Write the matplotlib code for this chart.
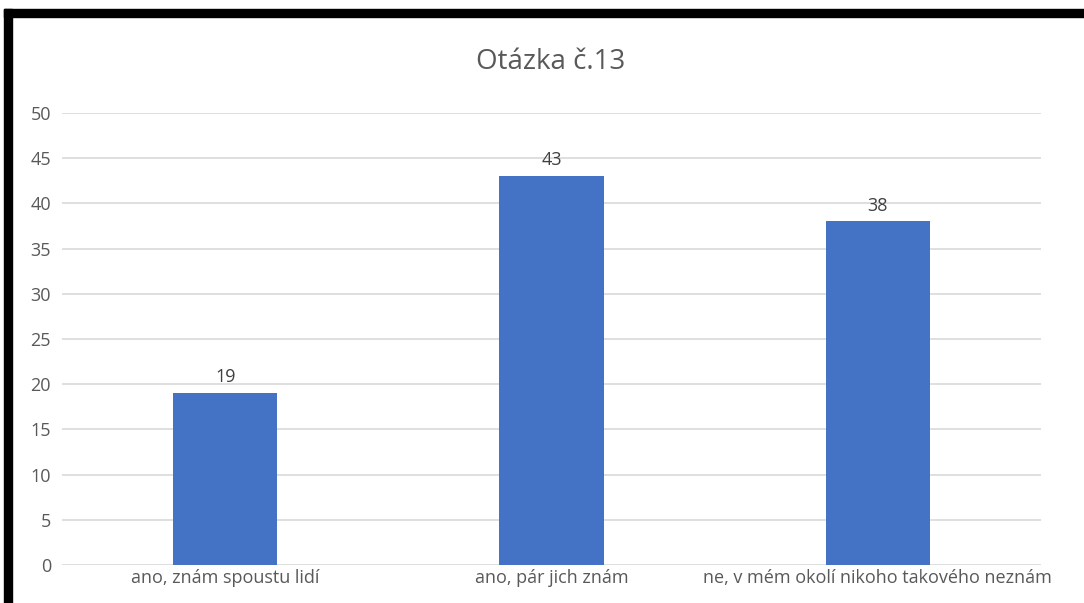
import matplotlib.pyplot as plt
from matplotlib.patches import Rectangle

categories = ["ano, znám spoustu lidí", "ano, pár jich znám", "ne, v mém okolí nikoho takového neznám"]
values = [19, 43, 38]
yticks = [0, 5, 10, 15, 20, 25, 30, 35, 40, 45, 50]

plt.rcParams['font.family'] = ['Open Sans', 'DejaVu Sans']
text_color = '#595959'

fig = plt.figure(figsize=(10.84, 6.03), dpi=100)
ax = fig.add_axes([62 / 1084, 1 - 565 / 603, (1041 - 62) / 1084, (565 - 113) / 603])

x = range(len(categories))
bars = ax.bar(x, values, width=0.32, color='#4472C4', zorder=3)
for b, v in zip(bars, values):
    ax.annotate(str(v), (b.get_x() + b.get_width() / 2, v), xytext=(0, 5),
                textcoords='offset points', ha='center', va='bottom',
                fontsize=13, color='#404040')

ax.set_xlim(-0.5, len(categories) - 0.5)
ax.set_ylim(0, 50)
ax.set_yticks(yticks)
ax.set_xticks(list(x))
ax.set_xticklabels(categories)
ax.grid(axis='y', color='#d9d9d9', linewidth=1.2, zorder=0)
for s in ax.spines.values():
    s.set_visible(False)
ax.tick_params(length=0, labelsize=13, colors=text_color, pad=8)
ax.tick_params(axis='x', pad=3)

fig.text(551 / 1084, 1 - 62 / 603, "Otázka č.13", ha='center', va='center',
         fontsize=20, color=text_color)

# black frame at top and left
fig.patches.append(Rectangle((4 / 1084, 1 - 17 / 603), 1, 8 / 603,
                             transform=fig.transFigure, color='black', zorder=10))
fig.patches.append(Rectangle((4 / 1084, 0), 8 / 1084, 1 - 9 / 603,
                             transform=fig.transFigure, color='black', zorder=10))

fig.savefig('out.png', dpi=100)
